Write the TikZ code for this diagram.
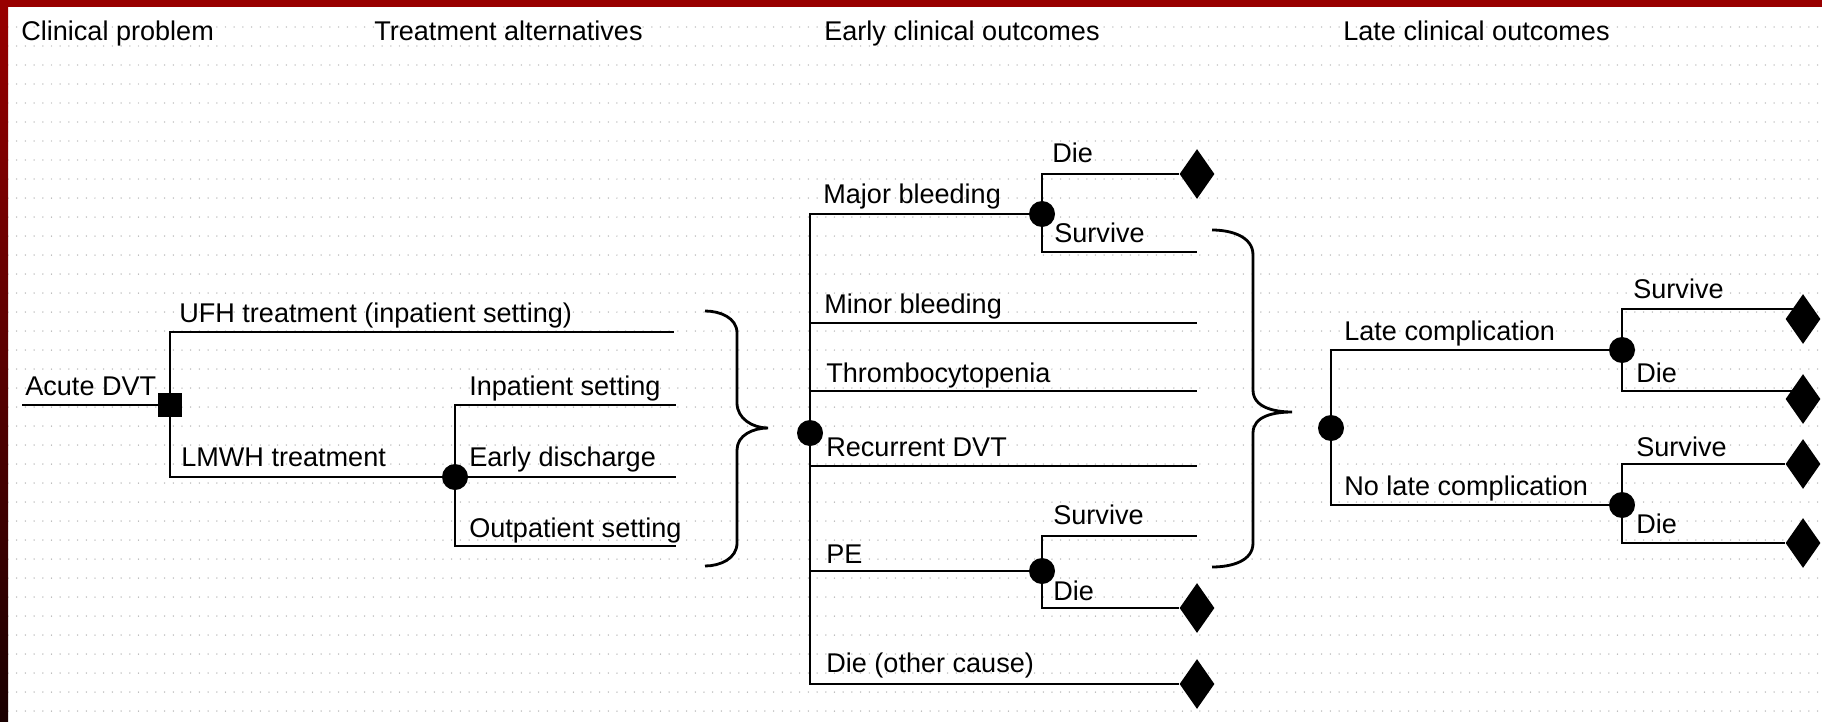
\documentclass[tikz,border=0pt]{standalone}
\usepackage{fontspec}
\setmainfont{Liberation Sans}
\usetikzlibrary{shapes.geometric}
\definecolor{framered}{RGB}{153,0,0}
\definecolor{framedark}{RGB}{26,0,0}

\begin{document}
\begin{tikzpicture}[x=2cm,y=2cm,
    branch/.style={line width=1.1pt},
    brace/.style={line width=1.6pt},
    lbl/.style={anchor=base west,inner sep=0pt,font=\fontsize{15.4}{18}\selectfont},
    decision/.style={rectangle,fill=black,minimum size=0.48cm,inner sep=0pt},
    chance/.style={circle,fill=black,minimum size=0.52cm,inner sep=0pt},
    terminal/.style={diamond,fill=black,minimum width=0.7cm,minimum height=1cm,inner sep=0pt},
    bgdots/.style={black!30,line width=0.85pt,line cap=round,dash pattern=on 0pt off 0.174cm}]
            \useasboundingbox (0,0) rectangle (18.22,7.21);
            \fill[white] (0,0) rectangle (18.22,7.21);
            \foreach \k in {1,...,37}{
                \draw[bgdots] (0.08,{7.13-0.19*\k})--(18.22,{7.13-0.19*\k});
            }
            \fill[framered] (0,7.14) rectangle (18.22,7.21);
            \shade[top color=framered,bottom color=framedark] (0,0) rectangle (0.08,7.21);
            \node[lbl] (hProb) at (0.21,6.80) {Clinical problem};
            \node[lbl] (hAlt) at (3.74,6.80) {Treatment alternatives};
            \node[lbl] (hEarly) at (8.24,6.80) {Early clinical outcomes};
            \node[lbl] (hLate) at (13.43,6.80) {Late clinical outcomes};
            \coordinate (root) at (0.22,3.16);
            \node[decision] (dvt) at (1.70,3.16) {};
            \node[chance] (lmwh) at (4.55,2.44) {};
            \coordinate (ufh) at (6.74,3.89);
            \coordinate (inpat) at (6.76,3.16);
            \coordinate (early) at (6.76,2.44);
            \coordinate (outpat) at (6.76,1.75);
            \draw[branch] (root)--(dvt);
            \draw[branch] (dvt)|-(ufh);
            \draw[branch] (dvt)|-(lmwh);
            \draw[branch] (lmwh)|-(inpat);
            \draw[branch] (lmwh)--(early);
            \draw[branch] (lmwh)|-(outpat);
            \node[lbl] (lAcute) at (0.25,3.26) {Acute DVT};
            \node[lbl] (lUfh) at (1.79,3.99) {UFH treatment (inpatient setting)};
            \node[lbl] (lLmwh) at (1.81,2.55) {LMWH treatment};
            \node[lbl] (lInpat) at (4.69,3.26) {Inpatient setting};
            \node[lbl] (lEarly) at (4.69,2.55) {Early discharge};
            \node[lbl] (lOutpat) at (4.69,1.84) {Outpatient setting};
            \draw[brace] (7.05,4.10) to[out=0,in=90] (7.37,3.88) -- (7.37,3.18) to[out=270,in=180] (7.68,2.93) to[out=180,in=90] (7.37,2.71) -- (7.37,1.78) to[out=270,in=0] (7.05,1.55);
            \node[chance] (ec) at (8.10,2.88) {};
            \node[chance] (mbc) at (10.42,5.07) {};
            \node[chance] (pec) at (10.42,1.50) {};
            \node[terminal] (d1) at (11.97,5.47) {};
            \node[terminal] (d2) at (11.97,1.13) {};
            \node[terminal] (d3) at (11.97,0.37) {};
            \coordinate (mbs) at (11.97,4.69);
            \coordinate (minor) at (11.97,3.98);
            \coordinate (throm) at (11.97,3.30);
            \coordinate (recur) at (11.97,2.55);
            \coordinate (pes) at (11.97,1.85);
            \draw[branch] (ec)|-(mbc);
            \draw[branch] (ec)|-(minor);
            \draw[branch] (ec)|-(throm);
            \draw[branch] (ec)|-(recur);
            \draw[branch] (ec)|-(pec);
            \draw[branch] (ec)|-(d3);
            \draw[branch] (mbc)|-(d1);
            \draw[branch] (mbc)|-(mbs);
            \draw[branch] (pec)|-(pes);
            \draw[branch] (pec)|-(d2);
            \node[lbl] (lMajor) at (8.23,5.18) {Major bleeding};
            \node[lbl] (lMbDie) at (10.52,5.58) {Die};
            \node[lbl] (lMbSurv) at (10.54,4.79) {Survive};
            \node[lbl] (lMinor) at (8.24,4.08) {Minor bleeding};
            \node[lbl] (lThrom) at (8.26,3.39) {Thrombocytopenia};
            \node[lbl] (lRecur) at (8.26,2.65) {Recurrent DVT};
            \node[lbl] (lPeSurv) at (10.53,1.97) {Survive};
            \node[lbl] (lPe) at (8.26,1.58) {PE};
            \node[lbl] (lPeDie) at (10.53,1.21) {Die};
            \node[lbl] (lOther) at (8.26,0.49) {Die (other cause)};
            \draw[brace] (12.12,4.91) to[out=0,in=90] (12.53,4.66) -- (12.53,3.31) to[out=270,in=180] (12.92,3.09) to[out=180,in=90] (12.53,2.88) -- (12.53,1.78) to[out=270,in=0] (12.12,1.54);
            \node[chance] (lc) at (13.31,2.93) {};
            \node[chance] (lcy) at (16.22,3.71) {};
            \node[chance] (lcn) at (16.22,2.16) {};
            \node[terminal] (t1) at (18.03,4.02) {};
            \node[terminal] (t2) at (18.03,3.22) {};
            \node[terminal] (t3) at (18.03,2.57) {};
            \node[terminal] (t4) at (18.03,1.78) {};
            \draw[branch] (lc)|-(lcy);
            \draw[branch] (lc)|-(lcn);
            \draw[branch] (lcy)|-([yshift=0.2cm]t1.center);
            \draw[branch] (lcy)|-([yshift=0.16cm]t2.center);
            \draw[branch] (lcn)|-(t3);
            \draw[branch] (lcn)|-(t4);
            \node[lbl] (lLate) at (13.44,3.81) {Late complication};
            \node[lbl] (lLySurv) at (16.33,4.23) {Survive};
            \node[lbl] (lLyDie) at (16.36,3.39) {Die};
            \node[lbl] (lNoLate) at (13.44,2.26) {No late complication};
            \node[lbl] (lLnSurv) at (16.36,2.65) {Survive};
            \node[lbl] (lLnDie) at (16.36,1.88) {Die};
        \end{tikzpicture}
\end{document}
